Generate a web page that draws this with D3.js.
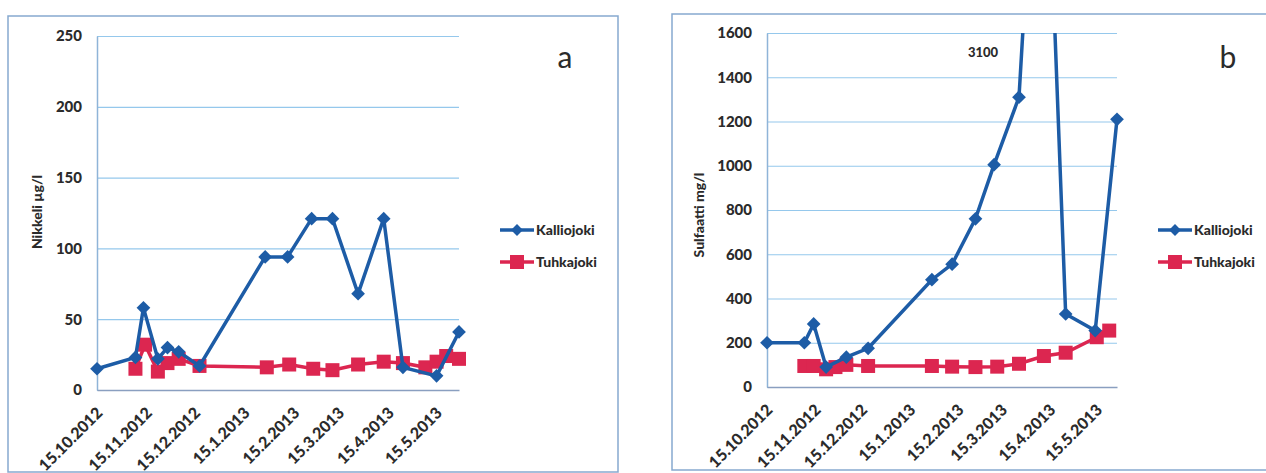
<!DOCTYPE html>
<html>
<head>
<meta charset="utf-8">
<script src="https://cdn.jsdelivr.net/npm/d3@7"></script>
<style>
  body { margin: 0; background: #fff; }
  text { font-family: Lato, "Open Sans", sans-serif; fill: #2b2b2b; }
</style>
</head>
<body>
<div id="chart"></div>
<script>
// --- data ---
let niKallioDates = ["2012-10-15","2012-11-08","2012-11-13","2012-11-22","2012-11-28","2012-12-05","2012-12-18",
  "2013-01-28","2013-02-11","2013-02-26","2013-03-11","2013-03-27","2013-04-12","2013-04-24","2013-05-15","2013-05-29"];
let niKallio = [15, 23, 58, 22, 30, 27, 17, 94, 94, 121, 121, 68, 121, 16, 10, 41];

let niTuhkaDates = ["2012-11-08","2012-11-14","2012-11-22","2012-11-28","2012-12-05","2012-12-18","2013-01-29",
  "2013-02-12","2013-02-27","2013-03-11","2013-03-27","2013-04-12","2013-04-24","2013-05-08","2013-05-15","2013-05-21","2013-05-29"];
let niTuhka = [15, 32, 13, 19, 22, 17, 16, 18, 15, 14, 18, 20, 19, 16, 20, 24, 22];

let soKallioDates = ["2012-10-15","2012-11-08","2012-11-14","2012-11-22","2012-12-05","2012-12-19","2013-01-29",
  "2013-02-11","2013-02-26","2013-03-10","2013-03-26","2013-04-10","2013-04-25","2013-05-14","2013-05-28"];
let soKallio = [200, 200, 285, 90, 135, 175, 485, 555, 760, 1005, 1310, 3100, 330, 255, 1210];

let soTuhkaDates = ["2012-11-08","2012-11-14","2012-11-22","2012-11-28","2012-12-05","2012-12-19","2013-01-29",
  "2013-02-11","2013-02-26","2013-03-12","2013-03-26","2013-04-11","2013-04-25","2013-05-15","2013-05-23"];
let soTuhka = [95, 95, 80, 90, 100, 95, 95, 92, 90, 92, 105, 140, 155, 225, 255];

let monthTicks = ["2012-10-15","2012-11-15","2012-12-15","2013-01-15","2013-02-15","2013-03-15","2013-04-15","2013-05-15"];
let niTicks = [0, 50, 100, 150, 200, 250];
let soTicks = [0, 200, 400, 600, 800, 1000, 1200, 1400, 1600];
let seriesNames = ["Kalliojoki", "Tuhkajoki"];

let blue = "#1d5ca6";
let red = "#dc2650";
let parse = d3.timeParse("%Y-%m-%d");
let fmt = d3.timeFormat("%-d.%-m.%Y");

let svg = d3.select('#chart')
    .append('svg')
    .attr("width", 1266)
    .attr("height", 473);

function drawChart(opt) {
    let g = svg.append('g');

    // outer frame
    g.append('rect')
        .attr('x', opt.box[0]).attr('y', opt.box[1])
        .attr('width', opt.box[2]).attr('height', opt.box[3])
        .attr('fill', 'none')
        .attr('stroke', '#86a9cf')
        .attr('stroke-width', 1.5);

    let xScale = d3.scaleTime()
        .domain([parse("2012-10-15"), parse(opt.xEnd)])
        .range([opt.left, opt.right]);

    let yScale = d3.scaleLinear()
        .domain([0, opt.yMax])
        .range([opt.bottom, opt.top]);

    // gridlines
    g.append('g')
        .attr("transform", "translate(" + opt.left + ",0)")
        .call(d3.axisLeft(yScale).tickValues(opt.yTicks).tickSize(-(opt.right - opt.left)).tickFormat(""))
        .call(s => s.select('.domain').remove())
        .selectAll('line')
        .attr('stroke', '#95c8ec')
        .attr('stroke-width', 1.2);

    // y axis
    let yAxis = g.append('g')
        .attr("transform", "translate(" + opt.left + ",0)")
        .call(d3.axisLeft(yScale).tickValues(opt.yTicks).tickSize(0).tickPadding(15).tickFormat(d3.format("d")));
    yAxis.select('.domain').attr('stroke', '#8fb4d8').attr('stroke-width', 1.5);
    yAxis.selectAll('text')
        .style('font-size', '15px')
        .style('font-weight', '900')
        .attr('fill', '#2b2b2b');

    // x axis
    let xAxis = g.append('g')
        .attr("transform", "translate(0," + opt.bottom + ")")
        .call(d3.axisBottom(xScale).tickValues(monthTicks.map(parse)).tickSize(0).tickFormat(fmt));
    xAxis.select('.domain').attr('stroke', '#8a9fc0').attr('stroke-width', 1.5);
    xAxis.selectAll('text')
        .attr('text-anchor', 'end')
        .attr('dy', null)
        .attr('y', 0)
        .attr('transform', "translate(6,24) rotate(-45)")
        .style('font-size', '16px')
        .style('font-weight', '900')
        .attr('fill', '#2b2b2b');

    // y title
    g.append('text')
        .attr('transform', "translate(" + opt.titleX + "," + opt.titleY + ") rotate(-90)")
        .attr('text-anchor', 'middle')
        .style('font-size', '14px')
        .style('font-weight', '900')
        .attr('fill', '#111')
        .text(opt.yTitle);

    // panel letter
    g.append('text')
        .attr('x', opt.letterX).attr('y', 68)
        .attr('text-anchor', 'middle')
        .style('font-size', '30px')
        .text(opt.letter);

    let clipId = "clip-" + opt.letter;
    svg.append('clipPath').attr('id', clipId)
        .append('rect')
        .attr('x', opt.left - 10).attr('y', opt.top)
        .attr('width', opt.right - opt.left + 20).attr('height', opt.bottom - opt.top + 10);

    let plot = g.append('g').attr('clip-path', "url(#" + clipId + ")");

    let line = d3.line()
        .x(d => xScale(d.date))
        .y(d => yScale(d.value));

    let redData = opt.redDates.map((d, i) => ({date: parse(d), value: opt.redValues[i]}));
    let blueData = opt.blueDates.map((d, i) => ({date: parse(d), value: opt.blueValues[i]}));

    plot.append('path').datum(redData)
        .attr('d', line).attr('fill', 'none')
        .attr('stroke', red).attr('stroke-width', 3.5);
    plot.selectAll('rect.sq').data(redData).enter()
        .append('rect').attr('class', 'sq')
        .attr('x', d => xScale(d.date) - 7).attr('y', d => yScale(d.value) - 7)
        .attr('width', 14).attr('height', 14)
        .attr('fill', red);

    plot.append('path').datum(blueData)
        .attr('d', line).attr('fill', 'none')
        .attr('stroke', blue).attr('stroke-width', 3.5);
    plot.selectAll('path.dia').data(blueData).enter()
        .append('path').attr('class', 'dia')
        .attr('d', d3.symbol(d3.symbolDiamond2, 120))
        .attr('transform', d => "translate(" + xScale(d.date) + "," + yScale(d.value) + ")")
        .attr('fill', blue);

    if (opt.note) {
        g.append('text')
            .attr('x', opt.note[0]).attr('y', opt.note[1])
            .attr('text-anchor', 'middle')
            .style('font-size', '13px')
            .style('font-weight', '900')
            .text(opt.note[2]);
    }

    // legend
    let leg = g.append('g').attr("transform", "translate(" + opt.legX + ",230)");
    seriesNames.forEach(function (name, i) {
        let row = leg.append('g').attr("transform", "translate(0," + (i * 32) + ")");
        let c = i === 0 ? blue : red;
        row.append('line').attr('x1', 0).attr('x2', 34).attr('stroke', c).attr('stroke-width', 3.5);
        if (i === 0) {
            row.append('path').attr('d', d3.symbol(d3.symbolDiamond2, 90)).attr('transform', "translate(17,0)").attr('fill', c);
        } else {
            row.append('rect').attr('x', 10).attr('y', -7).attr('width', 14).attr('height', 14).attr('fill', c);
        }
        row.append('text').attr('x', 36).attr('y', 5)
            .style('font-size', '14px').style('font-weight', '900')
            .text(name);
    });
}

drawChart({
    box: [8, 16, 610, 456], left: 97, right: 459, top: 36, bottom: 390,
    xEnd: "2013-05-29", yMax: 250, yTicks: niTicks, yTitle: "Nikkeli µg/l",
    titleX: 42, titleY: 212, letter: "a", letterX: 565, legX: 500,
    blueDates: niKallioDates, blueValues: niKallio, redDates: niTuhkaDates, redValues: niTuhka
});

drawChart({
    box: [672, 14, 620, 456], left: 767, right: 1117, top: 33, bottom: 387,
    xEnd: "2013-05-28", yMax: 1600, yTicks: soTicks, yTitle: "Sulfaatti mg/l",
    titleX: 704, titleY: 215, letter: "b", letterX: 1228, legX: 1158,
    blueDates: soKallioDates, blueValues: soKallio, redDates: soTuhkaDates, redValues: soTuhka,
    note: [983, 57, "3100"]
});
</script>
</body>
</html>
